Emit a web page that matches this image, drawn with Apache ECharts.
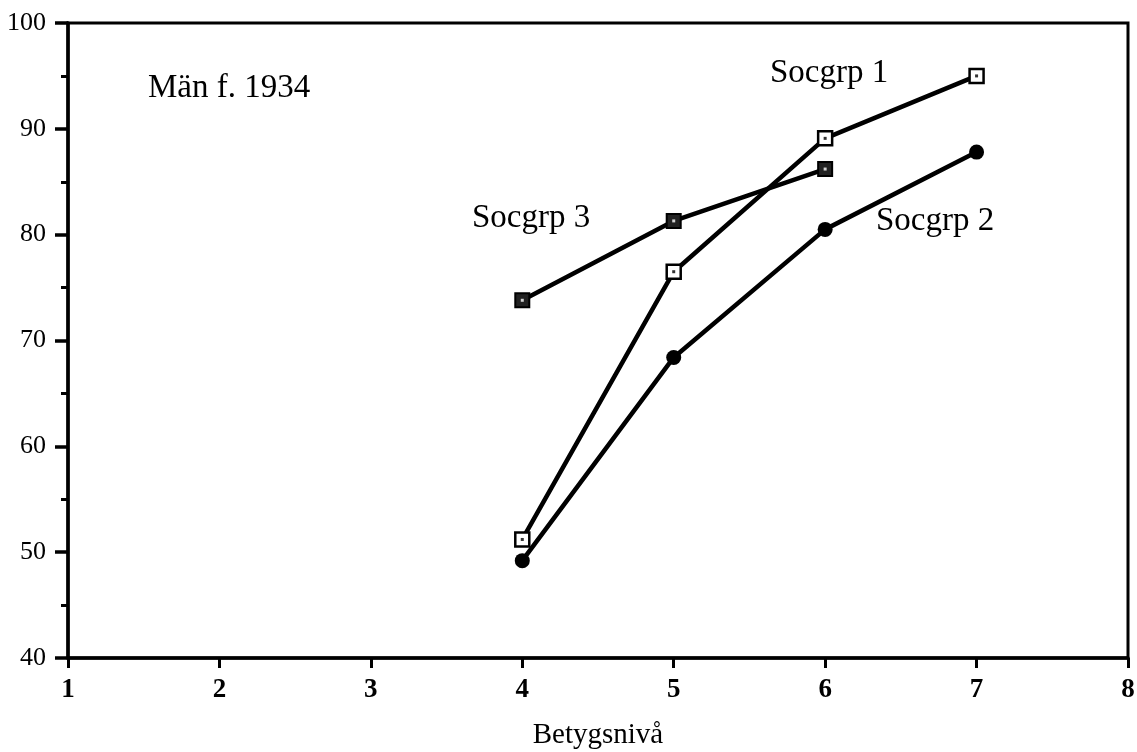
<!DOCTYPE html>
<html>
<head>
<meta charset="utf-8">
<title>Män f. 1934</title>
<script src="https://cdn.jsdelivr.net/npm/echarts@6/dist/echarts.min.js"></script>
<style>
  html, body { margin: 0; padding: 0; background: #fff; }
  #chart { width: 1137px; height: 752px; }
</style>
</head>
<body>
<div id="chart"></div>
<script>
// x-värden (betygsnivå)
const niva1 = [4, 5, 6, 7];
const niva2 = [4, 5, 6, 7];
const niva3 = [4, 5, 6];
// andel (%) per socialgrupp
const socgrp1 = [51.2, 76.5, 89.1, 95.0];
const socgrp2 = [49.2, 68.4, 80.5, 87.8];
const socgrp3 = [73.8, 81.3, 86.2];

const font = '"Liberation Serif", "DejaVu Serif", serif';

const pairs = (xs, ys) => xs.map((x, i) => [x, ys[i]]);

const chart = echarts.init(document.getElementById('chart'));

const lineBase = {
  type: 'line',
  lineStyle: { color: '#000', width: 4.5 },
  symbolSize: 14,
  z: 3,
  animation: false
};

// liten prick i mitten av fyrkanterna
const dot = (data, color) => ({
  type: 'scatter',
  data: data,
  symbol: 'rect',
  symbolSize: 3,
  itemStyle: { color: color },
  z: 5,
  animation: false
});

const label = (text, left, top) => ({
  type: 'text', left: left, top: top,
  style: { text: text, font: '33px ' + font, fill: '#000' }
});

const option = {
  backgroundColor: '#fff',
  grid: {
    left: 68, right: 9, top: 23, bottom: 94,
    containLabel: false,
    outerBoundsMode: 'none',
    show: true, borderColor: '#000', borderWidth: 3
  },
  xAxis: {
    type: 'value',
    min: 1, max: 8, interval: 1,
    name: 'Betygsnivå',
    nameLocation: 'middle',
    nameGap: 63,
    nameTextStyle: { fontFamily: font, fontSize: 29, color: '#000' },
    axisLine: { lineStyle: { color: '#000', width: 3.5 } },
    axisTick: { length: 10, lineStyle: { color: '#000', width: 3 } },
    axisLabel: { fontFamily: font, fontSize: 27, color: '#000', margin: 19, fontWeight: 'bold' },
    splitLine: { show: false }
  },
  yAxis: {
    type: 'value',
    min: 40, max: 100, interval: 10,
    axisLine: { show: true, lineStyle: { color: '#000', width: 3.5 } },
    axisTick: { length: 13, lineStyle: { color: '#000', width: 3.5 } },
    minorTick: { show: true, splitNumber: 2, length: 7, lineStyle: { color: '#000', width: 3 } },
    axisLabel: { fontFamily: font, fontSize: 26, color: '#000', margin: 22 },
    splitLine: { show: false }
  },
  graphic: [
    label('Män f. 1934', 148, 72),
    label('Socgrp 1', 770, 57),
    label('Socgrp 3', 472, 202),
    label('Socgrp 2', 876, 205)
  ],
  series: [
    Object.assign({}, lineBase, {
      name: 'Socgrp 3',
      data: pairs(niva3, socgrp3),
      symbol: 'rect',
      itemStyle: { color: '#222', borderColor: '#000', borderWidth: 2 }
    }),
    dot(pairs(niva3, socgrp3), '#fff'),
    Object.assign({}, lineBase, {
      name: 'Socgrp 2',
      data: pairs(niva2, socgrp2),
      symbol: 'circle',
      symbolSize: 15,
      itemStyle: { color: '#000', borderColor: '#000', borderWidth: 0 }
    }),
    Object.assign({}, lineBase, {
      name: 'Socgrp 1',
      data: pairs(niva1, socgrp1),
      symbol: 'rect',
      z: 4,
      itemStyle: { color: '#fff', borderColor: '#000', borderWidth: 2.5 }
    }),
    dot(pairs(niva1, socgrp1), '#000')
  ]
};

chart.setOption(option);
</script>
</body>
</html>
